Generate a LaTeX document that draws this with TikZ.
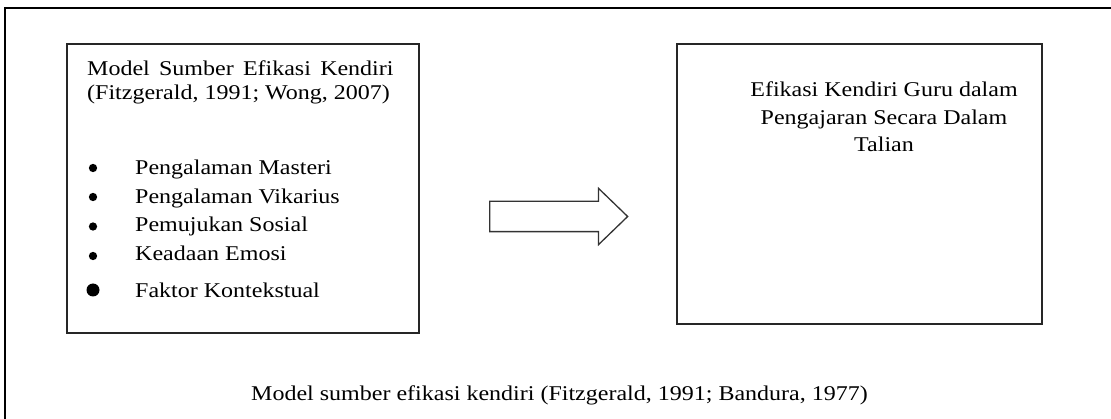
\documentclass[tikz,border=0pt]{standalone}
\usepackage{fontspec}
\setmainfont{Liberation Serif}
\usetikzlibrary{shapes.arrows}

\begin{document}
\begin{tikzpicture}[x=1pt, y=-1pt,
    box/.style={shape=rectangle, draw=black!85, line width=1.1pt, inner sep=0},
    dot/.style={shape=circle, fill=black, inner sep=0, minimum size=8.3pt},
    txt/.style={font=\fontsize{21}{24}\selectfont, inner sep=0, xscale=1.143}]
    \useasboundingbox (0,0) rectangle (1111,419);
    \draw[line width=1.2pt] (5,419) |- (1111,8);

    \node[box, minimum width=352pt, minimum height=289pt] (src) at (243,188.5) {};
    \node[box, minimum width=365pt, minimum height=280pt] (guru) at (859.5,184) {};
    \node[single arrow, draw=black!80, line width=1.3pt, minimum height=138pt,
          inner xsep=0, inner ysep=14.5pt, single arrow head extend=13pt,
          single arrow tip angle=88, anchor=tail] (arr) at (489,216.5) {};

    \node[txt, text width=268pt, align=justify, anchor=base west] (title) at (87,76)
      {Model Sumber Efikasi Kendiri (Fitzgerald, 1991; Wong, 2007)};

    \node[dot] (b1) at (93,168) {};
    \node[dot] (b2) at (93,197) {};
    \node[dot] (b3) at (93,226.5) {};
    \node[dot] (b4) at (93,256) {};
    \node[dot, minimum size=13pt] (b5) at (93,290) {};
    \node[txt, anchor=base west] (s1) at (135,175) {Pengalaman Masteri};
    \node[txt, anchor=base west] (s2) at (135,203.5) {Pengalaman Vikarius};
    \node[txt, anchor=base west] (s3) at (135,232) {Pemujukan Sosial};
    \node[txt, anchor=base west] (s4) at (135,261) {Keadaan Emosi};
    \node[txt, anchor=base west] (s5) at (135,298) {Faktor Kontekstual};

    \node[txt, font=\fontsize{21}{27.5}\selectfont, align=center, anchor=base] (eff) at (884,152)
      {Efikasi Kendiri Guru dalam\\ Pengajaran Secara Dalam\\ Talian};

    \node[txt, anchor=base] (cap) at (559.5,400)
      {Model sumber efikasi kendiri (Fitzgerald, 1991; Bandura, 1977)};
\end{tikzpicture}
\end{document}
